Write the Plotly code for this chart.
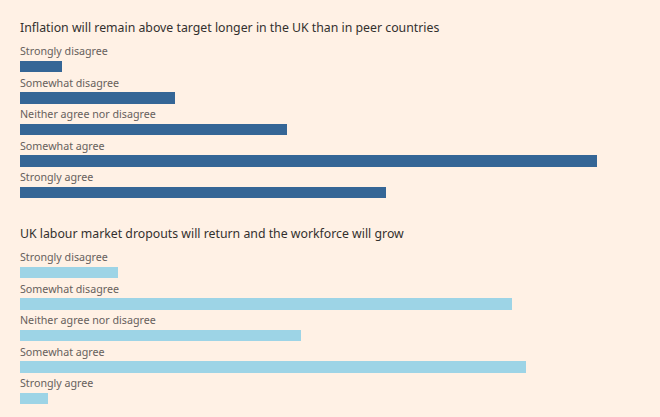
import plotly.graph_objects as go

categories = ["Strongly disagree", "Somewhat disagree", "Neither agree nor disagree",
              "Somewhat agree", "Strongly agree"]
inflation_values = [3, 11, 19, 41, 26]
labour_values = [7, 35, 20, 36, 2]
titles = ["Inflation will remain above target longer in the UK than in peer countries",
          "UK labour market dropouts will return and the workforce will grow"]

BG = "#fff1e5"
DARK = "#356696"
LIGHT = "#9dd4e6"
TITLE_C = "#33302e"
LABEL_C = "#66605c"
FONT = "Noto Sans"

fig = go.Figure()
idx = list(range(len(categories)))

for i, (vals, col) in enumerate([(inflation_values, DARK), (labour_values, LIGHT)]):
    xa = "x" if i == 0 else "x2"
    ya = "y" if i == 0 else "y2"
    fig.add_trace(go.Bar(x=vals, y=idx, orientation="h", marker=dict(color=col, line=dict(width=0)),
                         width=0.38, xaxis=xa, yaxis=ya, hoverinfo="x+y", showlegend=False))
    for j, c in enumerate(categories):
        fig.add_annotation(x=0, y=j, xref=xa, yref=ya, text=c, showarrow=False,
                           xanchor="left", yanchor="middle", yshift=15, xshift=-2,
                           font=dict(family=FONT, size=10.7, color=LABEL_C))

H = 417
fig.update_layout(
    width=660, height=H, paper_bgcolor=BG, plot_bgcolor=BG,
    margin=dict(l=20, r=21, t=0, b=0),
    bargap=0,
    xaxis=dict(domain=[0, 1], range=[0, 44], visible=False, anchor="y"),
    xaxis2=dict(domain=[0, 1], range=[0, 44], visible=False, anchor="y2"),
    yaxis=dict(domain=[(H - 207.75) / H, (H - 34.5) / H], range=[4.5, -1.0], visible=False),
    yaxis2=dict(domain=[3.25 / H, 176.5 / H], range=[4.5, -1.0], visible=False),
)

for t, ypix in zip(titles, [27, 233]):
    fig.add_annotation(x=0, y=1 - ypix / H, xref="paper", yref="paper", text=t, showarrow=False,
                       xanchor="left", yanchor="middle", xshift=-2,
                       font=dict(family=FONT, size=12.3, color=TITLE_C))

fig.write_html("out.html", config={"displayModeBar": False},
               post_script="document.body.style.margin='0';document.body.style.overflow='hidden';")
